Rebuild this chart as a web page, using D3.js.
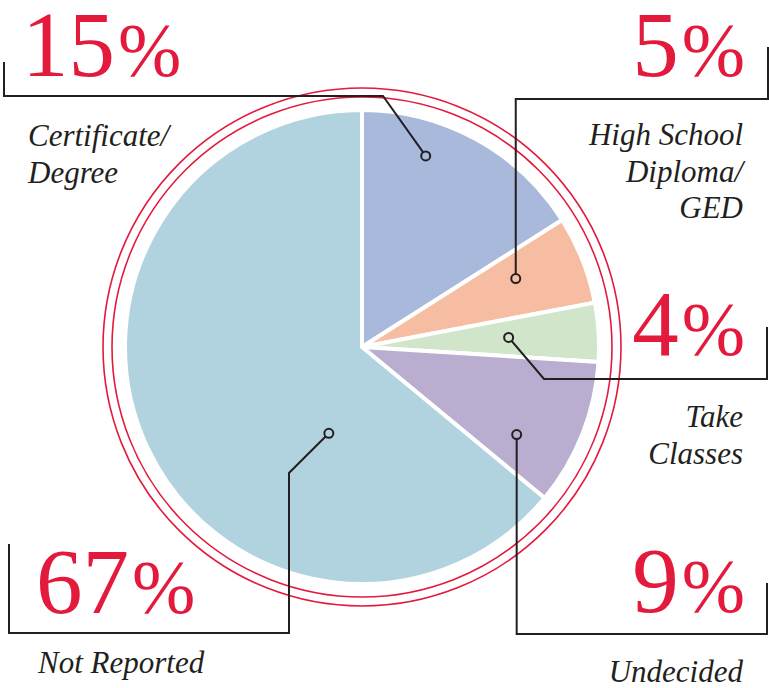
<!DOCTYPE html>
<html>
<head>
<meta charset="utf-8">
<script src="https://cdn.jsdelivr.net/npm/d3@7"></script>
<style>
  body { margin: 0; background: #fff; }
  svg { display: block; }
</style>
</head>
<body>
<div id="chart"></div>
<script>
// categories in clockwise order from 12 o'clock
const categories = ["Certificate/Degree", "High School Diploma/GED", "Take Classes", "Undecided", "Not Reported"];
// percentages printed on the chart
const percents = [15, 5, 4, 9, 67];
// wedge sizes as drawn in the picture (they don't quite follow the printed numbers)
const shares = [16, 6, 4, 10, 64];
const colors = ["#a9b9dc", "#f7bda3", "#d1e5cb", "#b9aed0", "#b1d3df"];
// label text split into lines
const labelLines = [["Certificate/", "Degree"], ["High School", "Diploma/", "GED"], ["Take", "Classes"], ["Undecided"], ["Not Reported"]];

const width = 769, height = 688;
const cx = 362, cy = 347, radius = 237;
const red = "#e31a3c", ink = "#231f20";

// where each leader dot sits inside its wedge: fraction along the wedge angle, fraction of radius
const dotPos = [[0.32, 0.85], [0.39, 0.71], [0.49, 0.62], [0.72, 0.75], [0.31, 0.39]];

// annotation layout: leader path after the dot, number position, label position
const layout = [
  {path: d => [[383, 96], [4, 96], [4, 62]], num: [22, 76, "start"], lab: [28, 146, "start"]},
  {path: d => [[d[0], 99], [768, 99], [768, 47]], num: [745, 76, "end"], lab: [743, 145, "end"]},
  {path: d => [[544, 379], [767, 379], [767, 327]], num: [745, 355, "end"], lab: [743, 427, "end"]},
  {path: d => [[d[0], 634], [767, 634], [767, 583]], num: [745, 612, "end"], lab: [743, 682, "end"]},
  {path: d => [[289, 473], [289, 633], [9, 633], [9, 544]], num: [36, 613, "start"], lab: [38, 673, "start"]}
];

const svg = d3.select("#chart").append("svg")
  .attr("width", width)
  .attr("height", height);

const pie = d3.pie().sort(null).value(d => d)(shares);
const arc = d3.arc().innerRadius(0).outerRadius(radius);

const g = svg.append("g").attr("transform", `translate(${cx},${cy})`);

g.selectAll("path.slice")
  .data(pie)
  .join("path")
  .attr("class", "slice")
  .attr("d", arc)
  .attr("fill", (d, i) => colors[i])
  .attr("stroke", "#fff")
  .attr("stroke-width", 4)
  .attr("stroke-linejoin", "round");

// double red ring
[250, 259].forEach(r => {
  g.append("circle")
    .attr("r", r)
    .attr("fill", "none")
    .attr("stroke", red)
    .attr("stroke-width", 1.6);
});

// leaders
const line = d3.line();
pie.forEach((d, i) => {
  const a = d.startAngle + dotPos[i][0] * (d.endAngle - d.startAngle);
  const rr = dotPos[i][1] * radius;
  const dot = [cx + rr * Math.sin(a), cy - rr * Math.cos(a)];
  const pts = [dot].concat(layout[i].path(dot));

  svg.append("path")
    .attr("d", line(pts))
    .attr("fill", "none")
    .attr("stroke", ink)
    .attr("stroke-width", 2)
    .attr("stroke-linejoin", "miter");

  svg.append("circle")
    .attr("cx", dot[0])
    .attr("cy", dot[1])
    .attr("r", 4.5)
    .attr("fill", colors[i])
    .attr("stroke", ink)
    .attr("stroke-width", 2);

  const [nx, ny, nanchor] = layout[i].num;
  const num = svg.append("text")
    .attr("x", nx)
    .attr("y", ny)
    .attr("text-anchor", nanchor)
    .attr("font-family", "'Liberation Serif', serif")
    .attr("font-size", 93)
    .attr("fill", red);
  num.append("tspan").text(percents[i]);
  num.append("tspan").attr("font-size", 76).attr("dx", 3).text("%");

  const [lx, ly, lanchor] = layout[i].lab;
  svg.append("text")
    .attr("text-anchor", lanchor)
    .attr("font-family", "'Liberation Serif', serif")
    .attr("font-style", "italic")
    .attr("font-size", 31)
    .attr("fill", ink)
    .selectAll("tspan")
    .data(labelLines[i])
    .join("tspan")
    .attr("x", lx)
    .attr("y", (t, k) => ly + k * 36.5)
    .text(t => t);
});
</script>
</body>
</html>
